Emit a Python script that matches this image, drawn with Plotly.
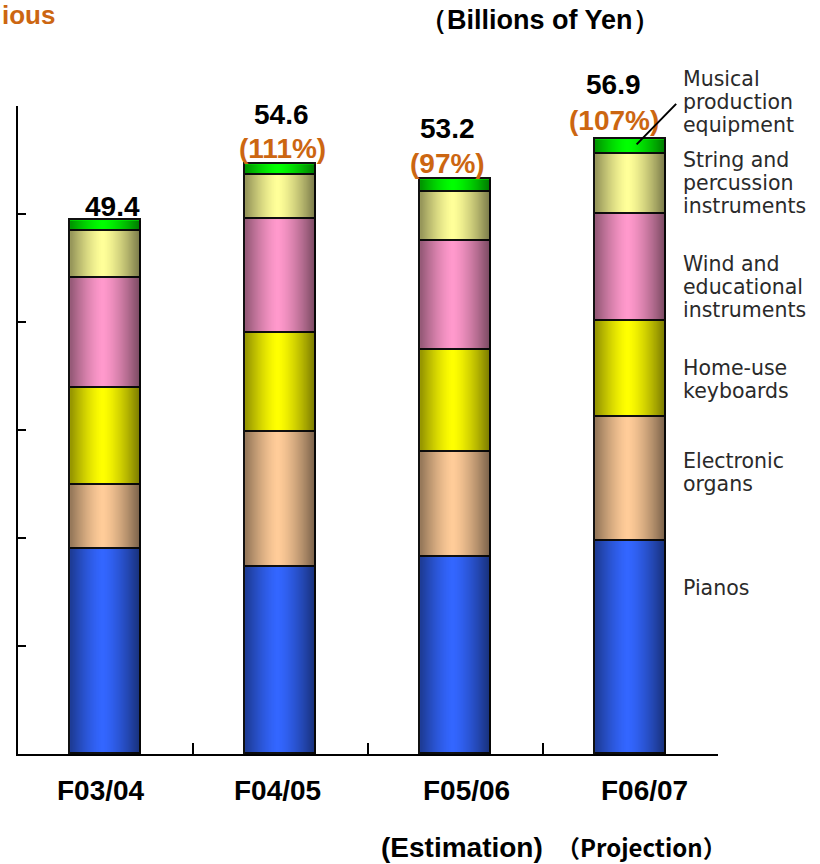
import base64
import struct
import zlib

import plotly.graph_objects as go

# ---- data (billions of yen) ----
years = ["F03/04", "F04/05", "F05/06", "F06/07"]
pianos = [19.0, 17.3, 18.2, 19.7]
electronic_organs = [5.9, 12.5, 9.8, 11.5]
home_keyboards = [9.0, 9.2, 9.4, 8.9]
wind_educational = [10.2, 10.5, 10.1, 9.9]
string_percussion = [4.3, 4.1, 4.5, 5.6]
music_production = [1.0, 1.0, 1.2, 1.3]
totals = [49.4, 54.6, 53.2, 56.9]
yoy_labels = ["", "(111%)", "(97%)", "(107%)"]

series = [
    ("Pianos", pianos, "#3366FF"),
    ("Electronic organs", electronic_organs, "#FFCC99"),
    ("Home-use keyboards", home_keyboards, "#FFFF00"),
    ("Wind and educational instruments", wind_educational, "#FF99CC"),
    ("String and percussion instruments", string_percussion, "#FFFF99"),
    ("Musical production equipment", music_production, "#00FF00"),
]

side_labels = [
    (["Musical", "production", "equipment"], 79),
    (["String and", "percussion", "instruments"], 160),
    (["Wind and", "educational", "instruments"], 264),
    (["Home-use", "keyboards"], 368),
    (["Electronic", "organs"], 461),
    (["Pianos"], 588),
]

# ---- layout geometry ----
W, H = 820, 864
ML, MR, MT, MB = 18, 102, 106, 110
PLOT_H = H - MT - MB
PLOT_W = W - ML - MR
BAR_W = 0.405
ORANGE = "#CC6611"
BOLD = "Liberation Sans, Arial, sans-serif"
LIGHT = "DejaVu Sans, Verdana, sans-serif"


def py(pix):
    """pixel row -> paper y"""
    return (H - MB - pix) / PLOT_H


def px(pix):
    """pixel column -> paper x"""
    return (pix - ML) / PLOT_W


def shade_png(width=96):
    """1-px tall RGBA strip: transparent in the middle, dark at both edges."""
    row = bytearray(b"\x00")
    for i in range(width):
        t = (i + 0.5) / width
        d = min(1.0, abs(t - 0.46) / 0.54)
        a = int(255 * 0.55 * d ** 1.4)
        row += bytes([0, 0, 0, a])

    def chunk(tag, data):
        c = struct.pack(">I", len(data)) + tag + data
        return c + struct.pack(">I", zlib.crc32(tag + data) & 0xFFFFFFFF)

    png = b"\x89PNG\r\n\x1a\n"
    png += chunk(b"IHDR", struct.pack(">IIBBBBB", width, 1, 8, 6, 0, 0, 0))
    png += chunk(b"IDAT", zlib.compress(bytes(row)))
    png += chunk(b"IEND", b"")
    return "data:image/png;base64," + base64.b64encode(png).decode()


fig = go.Figure()
for name, vals, color in series:
    fig.add_trace(go.Bar(
        x=years, y=vals, name=name, width=BAR_W,
        marker=dict(color=color, line=dict(color="#111111", width=1.6)),
        hoverinfo="x+y+name",
    ))

# cylinder-style shading over each stacked column
shade = shade_png()
images = []
for i, tot in enumerate(totals):
    images.append(dict(
        source=shade, xref="x", yref="y",
        x=i - BAR_W / 2, y=tot, sizex=BAR_W, sizey=tot,
        xanchor="left", yanchor="top", sizing="stretch", layer="above",
    ))

annotations = []

# totals and year-on-year ratios above the columns
total_dx = [6.5, 1, -8, -17.5]
total_dy = [14, 50, 51, 54.5]
yoy_dx = [1.5, 1.5, -8, -17]
yoy_dy = [0, 16, 16, 19]
for i, tot in enumerate(totals):
    annotations.append(dict(
        x=i, y=tot, xref="x", yref="y", text=f"<b>{tot:.1f}</b>", showarrow=False,
        xanchor="center", yanchor="middle", xshift=total_dx[i], yshift=total_dy[i],
        font=dict(family=BOLD, size=28, color="black"),
    ))
    if yoy_labels[i]:
        annotations.append(dict(
            x=i, y=tot, xref="x", yref="y", text=f"<b>{yoy_labels[i]}</b>",
            showarrow=False, xanchor="center", yanchor="middle",
            xshift=yoy_dx[i], yshift=yoy_dy[i],
            font=dict(family=BOLD, size=28, color=ORANGE),
        ))

# category labels under the axis
cat_dx = [-5, -3.5, 11, 13.5]
for i, yr in enumerate(years):
    annotations.append(dict(
        x=i, y=py(790), xref="x", yref="paper", text=f"<b>{yr}</b>", showarrow=False,
        xanchor="center", yanchor="middle", xshift=cat_dx[i],
        font=dict(family=BOLD, size=28, color="black"),
    ))

annotations.append(dict(
    x=px(461.5), y=py(847), xref="paper", yref="paper", text="<b>(Estimation)</b>",
    showarrow=False, xanchor="center", yanchor="middle",
    font=dict(family=BOLD, size=28, color="black"),
))
annotations.append(dict(
    x=px(641.5), y=py(846), xref="paper", yref="paper", text="<b>（Projection）</b>",
    showarrow=False, xanchor="center", yanchor="middle",
    font=dict(family="Noto Sans CJK JP, sans-serif", size=24, color="black"),
))

# unit caption
annotations.append(dict(
    x=px(540), y=py(20), xref="paper", yref="paper", text="<b>（Billions of Yen）</b>",
    showarrow=False, xanchor="center", yanchor="middle",
    font=dict(family=BOLD, size=27, color="black"),
))

# heading fragment, top-left
annotations.append(dict(
    x=px(0), y=py(15), xref="paper", yref="paper", text="<b>ious</b>",
    showarrow=False, xanchor="left", yanchor="middle",
    font=dict(family="Liberation Sans Narrow, Liberation Sans, sans-serif",
              size=26, color=ORANGE),
))

# product-group labels on the right, one line each
for lines, y0 in side_labels:
    for k, line in enumerate(lines):
        annotations.append(dict(
            x=px(681), y=py(y0 + 23 * k), xref="paper", yref="paper", text=line,
            showarrow=False, xanchor="left", yanchor="middle",
            font=dict(family=LIGHT, size=20.5, color="#2a2a2a"),
        ))

# leader from the top segment of the last column to its label
last = len(totals) - 1
annotations.append(dict(
    x=last + 0.035, y=totals[last] - music_production[last] * 0.35,
    xref="x", yref="y", text="", showarrow=True, arrowhead=0,
    arrowwidth=2, arrowcolor="black", ax=41, ay=-42, standoff=0,
))

fig.update_layout(
    width=W, height=H,
    margin=dict(l=ML, r=MR, t=MT, b=MB, pad=0),
    barmode="stack", bargap=0,
    showlegend=False,
    plot_bgcolor="white", paper_bgcolor="white",
    images=images,
    annotations=annotations,
    xaxis=dict(
        type="category", range=[-0.5, 3.5], tickson="boundaries",
        ticks="inside", ticklen=11, tickwidth=1.5, tickcolor="black",
        showline=True, linecolor="black", linewidth=1.5,
        showgrid=False, zeroline=False, showticklabels=False,
    ),
    yaxis=dict(
        range=[0, 60], tickvals=[0, 10, 20, 30, 40, 50, 60],
        ticks="inside", ticklen=8, tickwidth=1.5, tickcolor="black",
        showline=True, linecolor="black", linewidth=1.5,
        showgrid=False, zeroline=False, showticklabels=False,
    ),
)

fig.write_html("out.html")
